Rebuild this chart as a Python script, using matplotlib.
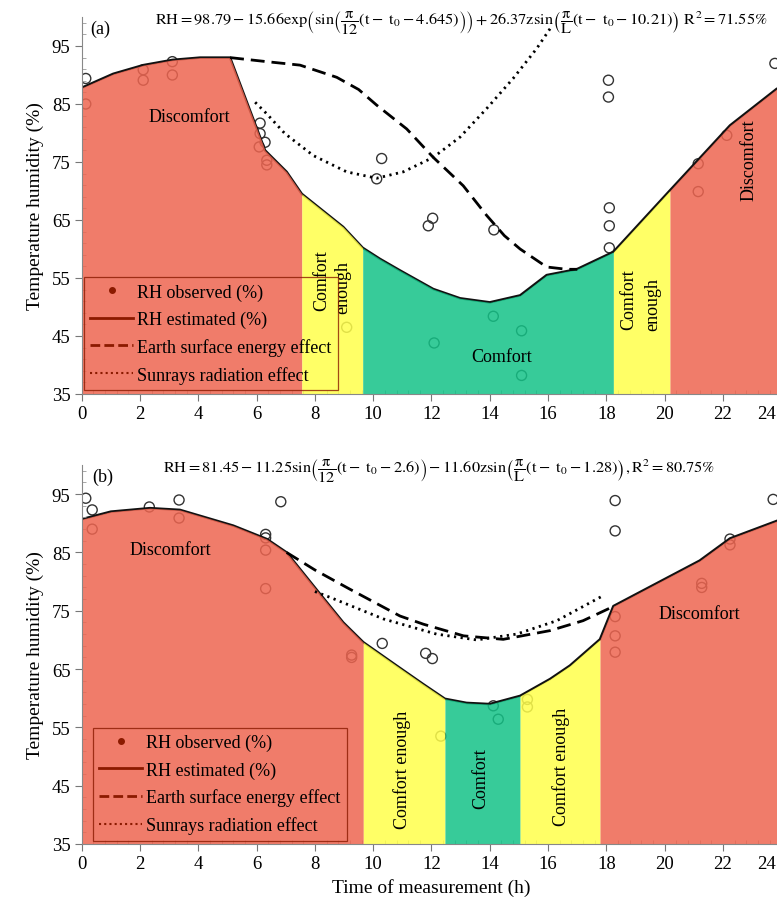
import numpy as np
import matplotlib
matplotlib.use("Agg")
import matplotlib.pyplot as plt
from matplotlib.lines import Line2D
import matplotlib.transforms as mtransforms

plt.rcParams['font.family'] = ['Liberation Serif', 'DejaVu Serif']
plt.rcParams['mathtext.fontset'] = 'stix'
plt.rcParams['mathtext.default'] = 'rm'

# ---------------- data: panel (a) ----------------
ta_est = [0, 1.08, 2.11, 3.11, 4.06, 5.09, 6.29, 7.03, 7.55, 8.97, 9.64, 10.23, 10.92,
          12.06, 12.98, 14.0, 15.04, 15.95, 16.98, 18.24, 20.18, 22.24, 23.84, 24]
rha_est = [87.8, 90.2, 91.7, 92.6, 93.0, 93.0, 77.0, 73.3, 69.5, 63.8, 60.2, 58.3, 56.3,
           53.1, 51.5, 50.8, 52.0, 55.5, 56.5, 59.5, 70.1, 81.3, 87.6, 88.0]
ta_earth = [5.09, 6.35, 7.49, 8.75, 9.5, 10.12, 11.15, 12.06, 13.09, 13.89, 14.5, 15.04,
            15.95, 16.64, 17.0]
rha_earth = [93.0, 92.3, 91.7, 89.6, 87.5, 84.8, 80.7, 75.8, 70.9, 65.8, 62.3, 60.0,
             56.9, 56.5, 56.5]
ta_sun = [5.95, 6.35, 6.97, 7.95, 9.09, 10.12, 11.03, 12.06, 12.98, 13.89, 14.8, 15.6, 16.07]
rha_sun = [85.3, 83.3, 79.9, 76.1, 73.3, 72.2, 73.3, 75.8, 79.3, 84.2, 89.4, 94.5, 98.0]
ta_obs = [0.14, 0.14, 2.11, 2.11, 3.11, 3.11, 6.12, 6.12, 6.29, 6.09, 6.35, 6.35, 10.29,
          10.12, 9.09, 12.04, 11.89, 14.14, 14.12, 15.09, 12.09, 15.09, 18.07, 18.07,
          18.1, 18.1, 18.1, 21.15, 21.15, 22.13, 23.78]
rha_obs = [89.4, 85.0, 90.9, 89.1, 92.3, 90.0, 81.7, 79.9, 78.4, 77.6, 75.3, 74.5, 75.6,
           72.1, 46.5, 65.3, 64.0, 63.3, 48.4, 45.9, 43.8, 38.2, 89.1, 86.2,
           67.1, 64.0, 60.2, 74.7, 69.9, 79.6, 92.0]
za_bounds = [0, 7.55, 9.64, 18.24, 20.18, 24]
za_zones = ['Discomfort', 'Comfort enough', 'Comfort', 'Comfort enough', 'Discomfort']

# ---------------- data: panel (b) ----------------
tb_est = [0, 1.0, 2.34, 3.37, 5.2, 6.35, 7.03, 8.06, 8.97, 9.66, 10.8, 11.72, 12.46,
          13.2, 14.0, 15.04, 16.07, 16.75, 17.78, 18.24, 21.2, 22.24, 23.84, 24]
rhb_est = [90.7, 92.0, 92.6, 92.3, 89.6, 87.3, 85.0, 78.6, 73.0, 69.6, 65.6, 62.4, 59.9,
           59.2, 59.0, 60.4, 63.3, 65.6, 70.1, 75.8, 83.6, 87.4, 90.4, 90.7]
tb_earth = [7.03, 8.0, 9.2, 10.92, 11.72, 13.1, 14.46, 16.07, 17.2, 18.18]
rhb_earth = [85.0, 82.0, 78.7, 74.1, 72.7, 70.7, 70.1, 71.6, 73.3, 75.6]
tb_sun = [8.0, 8.52, 10.35, 12.17, 13.55, 14.92, 16.3, 17.89]
rhb_sun = [78.3, 77.3, 73.6, 71.0, 70.0, 71.0, 73.3, 77.6]
tb_obs = [0.14, 0.36, 0.36, 2.32, 3.34, 3.34, 6.83, 6.31, 6.31, 6.31, 6.31, 9.26, 9.26,
          10.31, 11.8, 12.03, 12.32, 14.12, 14.29, 15.29, 15.29, 18.3, 18.3, 18.3, 18.3,
          18.3, 21.27, 21.27, 22.24, 22.24, 23.72]
rhb_obs = [94.3, 92.3, 89.0, 92.8, 94.0, 90.9, 93.7, 88.1, 87.5, 85.4, 78.8, 67.4, 67.0,
           69.4, 67.7, 66.8, 53.5, 58.7, 56.4, 59.8, 58.5, 93.9, 88.7, 74.0, 70.7,
           67.9, 79.7, 79.0, 87.3, 86.3, 94.1]
zb_bounds = [0, 9.66, 12.46, 15.04, 17.78, 24]
zb_zones = ['Discomfort', 'Comfort enough', 'Comfort', 'Comfort enough', 'Discomfort']

eq_a = (r"$\mathrm{RH}=98.79-15.66\mathrm{exp}\left(\mathrm{sin}\left(\dfrac{\pi}{12}(t-\ t_0-4.645)\right)\right)"
        r"+26.37z\mathrm{sin}\left(\dfrac{\pi}{L}(t-\ t_0-10.21)\right)\ \mathrm{R}^2=71.55\%$")
eq_b = (r"$\mathrm{RH}=81.45-11.25\mathrm{sin}\left(\dfrac{\pi}{12}(t-\ t_0-2.6)\right)"
        r"-11.60z\mathrm{sin}\left(\dfrac{\pi}{L}(t-\ t_0-1.28)\right),\mathrm{R}^2=80.75\%$")

legend_labels = ['RH observed (%)', 'RH estimated (%)', 'Earth surface energy effect',
                 'Sunrays radiation effect']

# ---------------- styles ----------------
FILL_ALPHA = 0.85
zone_colors = {'Discomfort': '#EE6550', 'Comfort enough': '#FFFF4B', 'Comfort': '#14C287'}
LEG_COL = '#8B1A00'

W, H = 777, 903
fig = plt.figure(figsize=(W / 100, H / 100), dpi=100)
x0 = 81.7 / W
axw = 24 * 29.15 / W
ax1 = fig.add_axes([x0, (H - 395) / H, axw, 377 / H])
ax2 = fig.add_axes([x0, (H - 845) / H, axw, 379 / H])


def draw_panel(ax, t_est, rh_est, t_e, rh_e, t_s, rh_s, t_o, rh_o, bounds, zones):
    t_est = np.array(t_est)
    rh_est = np.array(rh_est)
    ax.scatter(t_o, rh_o, s=52, facecolors='none', edgecolors='#333333', linewidths=1.0,
               zorder=1)
    ax.plot(t_est, rh_est, color='#111111', lw=1.8, zorder=1.5)
    for a, b, z in zip(bounds[:-1], bounds[1:], zones):
        m = (t_est >= a - 1e-9) & (t_est <= b + 1e-9)
        ax.fill_between(t_est[m], 35, rh_est[m], color=zone_colors[z], alpha=FILL_ALPHA,
                        lw=0, zorder=2)
    ax.plot(t_e, rh_e, color='black', lw=2.0, ls=(0, (5, 2.5)), zorder=3)
    ax.plot(t_s, rh_s, color='black', lw=2.0, ls=(0, (0.8, 1.6)), zorder=3)
    ax.set_xlim(0, 24)
    ax.set_ylim(35, 100)
    ax.set_xticks(np.arange(0, 25, 2))
    ax.set_xticks(np.arange(0, 24.01, 0.4), minor=True)
    ax.set_yticks(np.arange(35, 96, 10))
    ax.set_yticks(np.arange(35, 100, 2), minor=True)
    ax.tick_params(which='major', direction='out', length=5, width=0.8, color='#777777',
                   labelsize=13.5, pad=3)
    ax.tick_params(which='minor', direction='in', length=3, width=0.6, color='#999999')
    for s in ['top', 'right']:
        ax.spines[s].set_visible(False)
    for s in ['left', 'bottom']:
        ax.spines[s].set_color('#888888')
        ax.spines[s].set_linewidth(0.8)
        ax.spines[s].set_zorder(4)
    ax.set_ylabel('Temperature humidity (%)', fontsize=14, labelpad=6)
    # keep the last x label (24) inside the figure edge
    lbl = ax.get_xticklabels()[-1]
    lbl.set_transform(lbl.get_transform() + mtransforms.ScaledTranslation(-15 / 100, 0, fig.dpi_scale_trans))


draw_panel(ax1, ta_est, rha_est, ta_earth, rha_earth, ta_sun, rha_sun, ta_obs, rha_obs,
           za_bounds, za_zones)
draw_panel(ax2, tb_est, rhb_est, tb_earth, rhb_earth, tb_sun, rhb_sun, tb_obs, rhb_obs,
           zb_bounds, zb_zones)
ax2.set_xlabel('Time of measurement (h)', fontsize=14, labelpad=4)

handles = [Line2D([], [], marker='o', ls='none', color=LEG_COL, markersize=4),
           Line2D([], [], color=LEG_COL, lw=2),
           Line2D([], [], color=LEG_COL, lw=2, ls=(0, (3.5, 1.5))),
           Line2D([], [], color=LEG_COL, lw=1.5, ls=(0, (1, 1.5)))]
for ax, bb in [(ax1, (0.003, 0.011, 0.363, 0.313)), (ax2, (0.0157, 0.009, 0.364, 0.338))]:
    leg = ax.legend(handles, legend_labels, loc='lower left', bbox_to_anchor=bb,
                    mode='expand', borderaxespad=0, fontsize=13, frameon=True,
                    fancybox=False, handlelength=2.4, handletextpad=0.2,
                    labelspacing=0.55, borderpad=0.35)
    fr = leg.get_frame()
    fr.set_facecolor('none')
    fr.set_edgecolor(LEG_COL)
    fr.set_linewidth(0.9)
    leg.set_zorder(6)

tk = dict(fontsize=13, zorder=5, ha='center', va='center')
# panel (a) zone labels
ax1.text(3.7, 82.8, 'Discomfort', **tk)
ax1.text(8.25, 54.7, 'Comfort', rotation=90, **tk)
ax1.text(8.95, 53.5, 'enough', rotation=90, **tk)
ax1.text(14.4, 41.5, 'Comfort', **tk)
ax1.text(18.75, 51.5, 'Comfort', rotation=90, **tk)
ax1.text(19.6, 50.6, 'enough', rotation=90, **tk)
ax1.text(22.9, 75.5, 'Discomfort', rotation=90, **tk)
ax1.text(0.3, 98.0, '(a)', fontsize=13, zorder=5, ha='left', va='center')
# panel (b) zone labels
ax2.text(3.05, 85.5, 'Discomfort', **tk)
ax2.text(11.0, 47.8, 'Comfort enough', rotation=90, **tk)
ax2.text(13.7, 46.3, 'Comfort', rotation=90, **tk)
ax2.text(16.45, 48.4, 'Comfort enough', rotation=90, **tk)
ax2.text(21.2, 74.5, 'Discomfort', **tk)
ax2.text(0.35, 98.0, '(b)', fontsize=13, zorder=5, ha='left', va='center')

fig.text(155 / W, 1 - 23 / H, eq_a, fontsize=11.8, ha='left', va='center')
fig.text(163 / W, 1 - 471 / H, eq_b, fontsize=11.8, ha='left', va='center')

fig.savefig('out.png', dpi=100)
